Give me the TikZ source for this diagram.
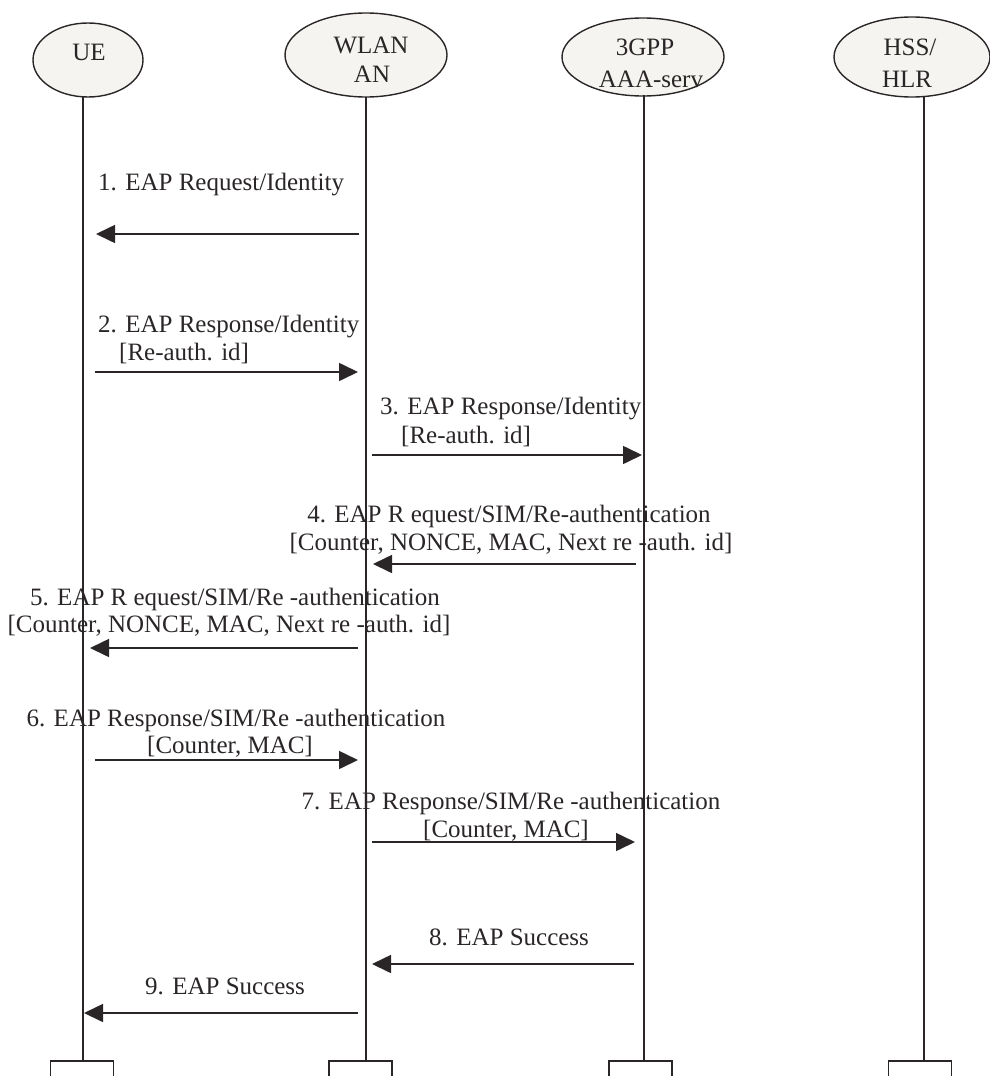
\documentclass[tikz,border=0pt]{standalone}
\usepackage{fontspec}
\setmainfont{Liberation Serif}
\usetikzlibrary{arrows.meta,shapes.geometric}
\definecolor{ink}{HTML}{2A2627}
\definecolor{ellfill}{HTML}{F5F4F1}
\begin{document}
\begin{tikzpicture}[x=1pt,y=-1pt,
  ent/.style={ellipse,draw=ink,fill=ellfill,line width=1.4pt,inner sep=0pt},
  lbl/.style={inner sep=0pt,text=ink,font=\fontsize{25}{28}\selectfont},
  life/.style={draw=ink,line width=1.6pt},
  msg/.style={draw=ink,line width=1.6pt,-{Triangle[length=19pt,width=18pt]}},
  foot/.style={draw=ink,line width=1.6pt,minimum width=63pt,minimum height=40pt,anchor=north,inner sep=0pt}]
\useasboundingbox (0,0) rectangle (990,1076);
\clip (0,0) rectangle (990,1076);
% entities
\node[ent,minimum width=110pt,minimum height=74pt] (ue) at (88,60) {};
\node[ent,minimum width=162pt,minimum height=84pt] (wlan) at (366,55) {};
\node[ent,minimum width=162pt,minimum height=78pt] (aaa) at (643,57) {};
\node[ent,minimum width=156pt,minimum height=80pt] (hss) at (912,57) {};
\node[lbl,anchor=base] (uet1) at (89,60) {UE};
\node[lbl,anchor=base] (wlant1) at (371,53) {WLAN};
\node[lbl,anchor=base] (wlant2) at (372,82) {AN};
\node[lbl,anchor=base] (aaat1) at (645,55) {3GPP};
\node[lbl,anchor=base] (aaat2) at (651,87) {AAA-serv};
\node[lbl,anchor=base] (hsst1) at (910,55) {HSS/};
\node[lbl,anchor=base] (hsst2) at (907,87) {HLR};
% footers
\node[foot] (uef) at (82,1060) {};
\node[foot] (wlanf) at (360.5,1060) {};
\node[foot] (aaaf) at (640.5,1060) {};
\node[foot] (hssf) at (920,1060) {};
% lifelines
\coordinate (uel) at (83,97);
\coordinate (wlanl) at (366,97);
\coordinate (aaal) at (644,95);
\coordinate (hssl) at (924,97);
\draw[life] (uel) -- (uel |- uef.north);
\draw[life] (wlanl) -- (wlanl |- wlanf.north);
\draw[life] (aaal) -- (aaal |- aaaf.north);
\draw[life] (hssl) -- (hssl |- hssf.north);
% message 1
\node[lbl,anchor=base west] (m1) at (98,190) {1. EAP Request/Identity};
\coordinate (a1s) at (359,234); \coordinate (a1e) at (96,234);
\draw[msg] (a1s) -- (a1e);
% message 2
\node[lbl,anchor=base west] (m2a) at (98,332) {2. EAP Response/Identity};
\node[lbl,anchor=base west] (m2b) at (119,360) {[Re-auth. id]};
\coordinate (a2s) at (95,372); \coordinate (a2e) at (358,372);
\draw[msg] (a2s) -- (a2e);
% message 3
\node[lbl,anchor=base west] (m3a) at (380,414) {3. EAP Response/Identity};
\node[lbl,anchor=base west] (m3b) at (401,443) {[Re-auth. id]};
\coordinate (a3s) at (372,455); \coordinate (a3e) at (642,455);
\draw[msg] (a3s) -- (a3e);
% message 4
\node[lbl,anchor=base] (m4a) at (509,522) {4. EAP R equest/SIM/Re-authentication};
\node[lbl,anchor=base] (m4b) at (511,550) {[Counter, NONCE, MAC, Next re -auth. id]};
\coordinate (a4s) at (636,564); \coordinate (a4e) at (373,564);
\draw[msg] (a4s) -- (a4e);
% message 5
\node[lbl,anchor=base] (m5a) at (235,605) {5. EAP R equest/SIM/Re -authentication};
\node[lbl,anchor=base] (m5b) at (229,632) {[Counter, NONCE, MAC, Next re -auth. id]};
\coordinate (a5s) at (358,648); \coordinate (a5e) at (90,648);
\draw[msg] (a5s) -- (a5e);
% message 6
\node[lbl,anchor=base] (m6a) at (236,726) {6. EAP Response/SIM/Re -authentication};
\node[lbl,anchor=base] (m6b) at (230,753) {[Counter, MAC]};
\coordinate (a6s) at (95,760); \coordinate (a6e) at (358,760);
\draw[msg] (a6s) -- (a6e);
% message 7
\node[lbl,anchor=base] (m7a) at (511,809) {7. EAP Response/SIM/Re -authentication};
\node[lbl,anchor=base] (m7b) at (506,837) {[Counter, MAC]};
\coordinate (a7s) at (372,842); \coordinate (a7e) at (635,842);
\draw[msg] (a7s) -- (a7e);
% message 8
\node[lbl,anchor=base west] (m8) at (429,945) {8. EAP Success};
\coordinate (a8s) at (634,964); \coordinate (a8e) at (372,964);
\draw[msg] (a8s) -- (a8e);
% message 9
\node[lbl,anchor=base west] (m9) at (145,994) {9. EAP Success};
\coordinate (a9s) at (358,1013); \coordinate (a9e) at (84,1013);
\draw[msg] (a9s) -- (a9e);
\end{tikzpicture}
\end{document}
